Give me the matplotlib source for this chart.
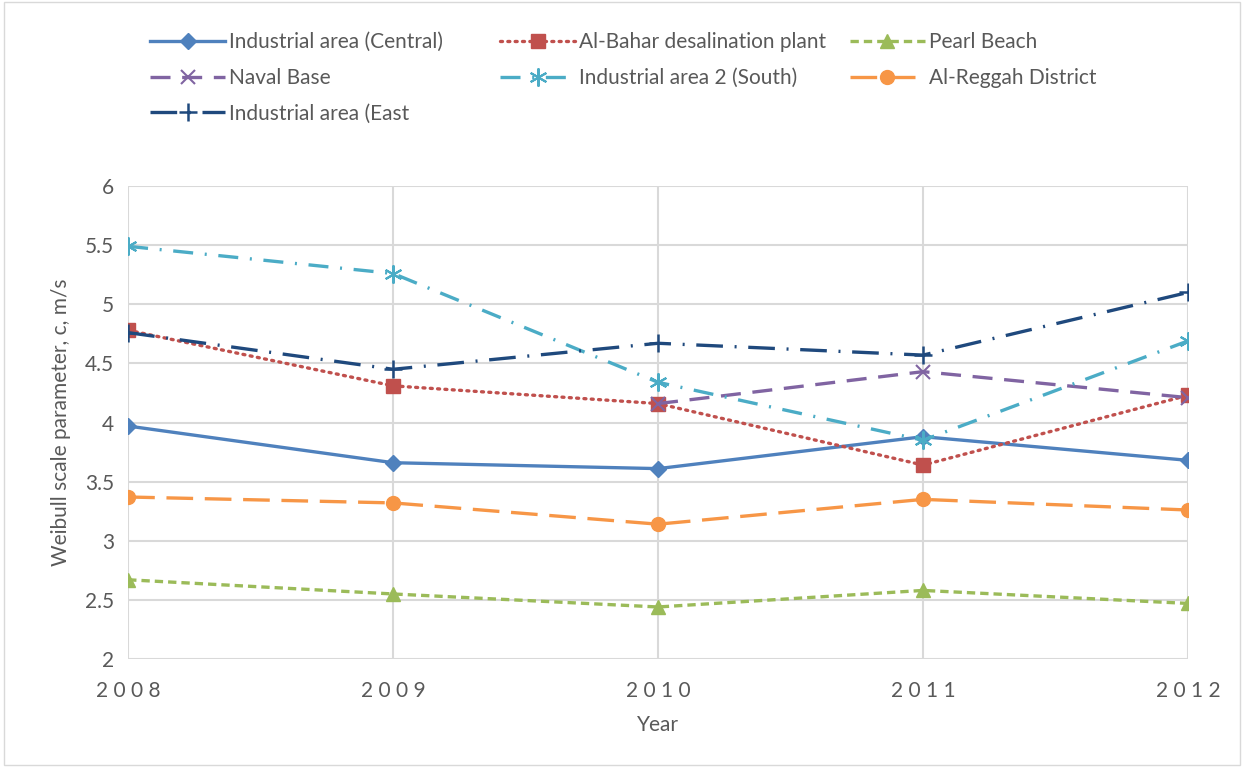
import matplotlib
matplotlib.use("Agg")
import matplotlib.pyplot as plt
import numpy as np

years = [2008, 2009, 2010, 2011, 2012]
central = [3.97, 3.66, 3.61, 3.88, 3.68]
al_bahar = [4.78, 4.31, 4.16, 3.64, 4.23]
pearl = [2.67, 2.55, 2.44, 2.58, 2.47]
naval = [np.nan, np.nan, 4.16, 4.43, 4.21]
south = [5.49, 5.26, 4.34, 3.85, 4.69]
reggah = [3.37, 3.32, 3.14, 3.35, 3.26]
east = [4.76, 4.45, 4.67, 4.57, 5.10]

plt.rcParams['font.family'] = ['Lato', 'DejaVu Sans']

fig = plt.figure(figsize=(12.44, 7.67), dpi=100)
ax = fig.add_axes([0.103, 0.1408, 0.852, 0.6167])

lw = 2.4
h = {}
h['c'], = ax.plot(years, central, color='#4F81BD', lw=lw, ls='-', marker='D', ms=8,
                  label='Industrial area (Central)')
h['b'], = ax.plot(years, al_bahar, color='#C0504D', lw=lw, ls=(0, (0.6, 1.6)), dash_capstyle='round',
                  marker='s', ms=10, label='Al-Bahar desalination plant')
h['p'], = ax.plot(years, pearl, color='#9BBB59', lw=lw, ls=(0, (2.5, 1.5)),
                  marker='^', ms=10, label='Pearl Beach')
h['n'], = ax.plot(years, naval, color='#8064A2', lw=lw, ls=(0, (6, 3.5)),
                  marker='x', ms=10, mew=1.5, label='Naval Base')
h['s'], = ax.plot(years, south, color='#4BACC6', lw=lw, ls=(0, (6, 3.5, 0.6, 3.5)),
                  marker=(6, 2, 0), ms=13, mew=1.5, label='Industrial area 2 (South)')
h['r'], = ax.plot(years, reggah, color='#F79646', lw=lw, ls=(0, (8, 3.5)),
                  marker='o', ms=10, label='Al-Reggah District')
h['e'], = ax.plot(years, east, color='#1F497D', lw=lw, ls=(0, (8, 3.5, 0.6, 3.5)),
                  marker='+', ms=13, mew=1.8, label='Industrial area (East')

ax.set_xlim(2008, 2012)
ax.set_ylim(2, 6)
ax.set_xticks(years)
ax.set_xticklabels(['2 0 0 8', '2 0 0 9', '2 0 1 0', '2 0 1 1', '2 0 1 2'])
ax.set_yticks([2, 2.5, 3, 3.5, 4, 4.5, 5, 5.5, 6])
ax.set_yticklabels(['2', '2.5', '3', '3.5', '4', '4.5', '5', '5.5', '6'])
ax.grid(True, color='#D9D9D9', lw=1.5)
ax.set_axisbelow(True)
for sp in ax.spines.values():
    sp.set_visible(False)
ax.tick_params(axis='both', length=0, labelsize=15, colors='#595959')
ax.tick_params(axis='x', pad=16)
ax.tick_params(axis='y', pad=10)
ax.set_xlabel('Year', fontsize=15, color='#595959', labelpad=10)
ax.set_ylabel('Weibull scale parameter, c, m/s', fontsize=15, color='#595959', labelpad=10)

columns = [(['c', 'n', 'e'], 0.1206), (['b', 's'], 0.402), (['p', 'r'], 0.683)]
for keys, x0 in columns:
    leg = fig.legend([h[k] for k in keys], [h[k].get_label() for k in keys],
                     loc='upper left', bbox_to_anchor=(x0, 0.958),
                     frameon=False, fontsize=15, handlelength=3.6,
                     labelspacing=0.75, handletextpad=0.2,
                     borderpad=0, borderaxespad=0)
    for t in leg.get_texts():
        t.set_color('#595959')

border = plt.Rectangle((0.003, 0.003), 0.994, 0.994, transform=fig.transFigure,
                       fill=False, edgecolor='#D9D9D9', lw=1)
fig.patches.append(border)

fig.savefig('out.png', dpi=100)
